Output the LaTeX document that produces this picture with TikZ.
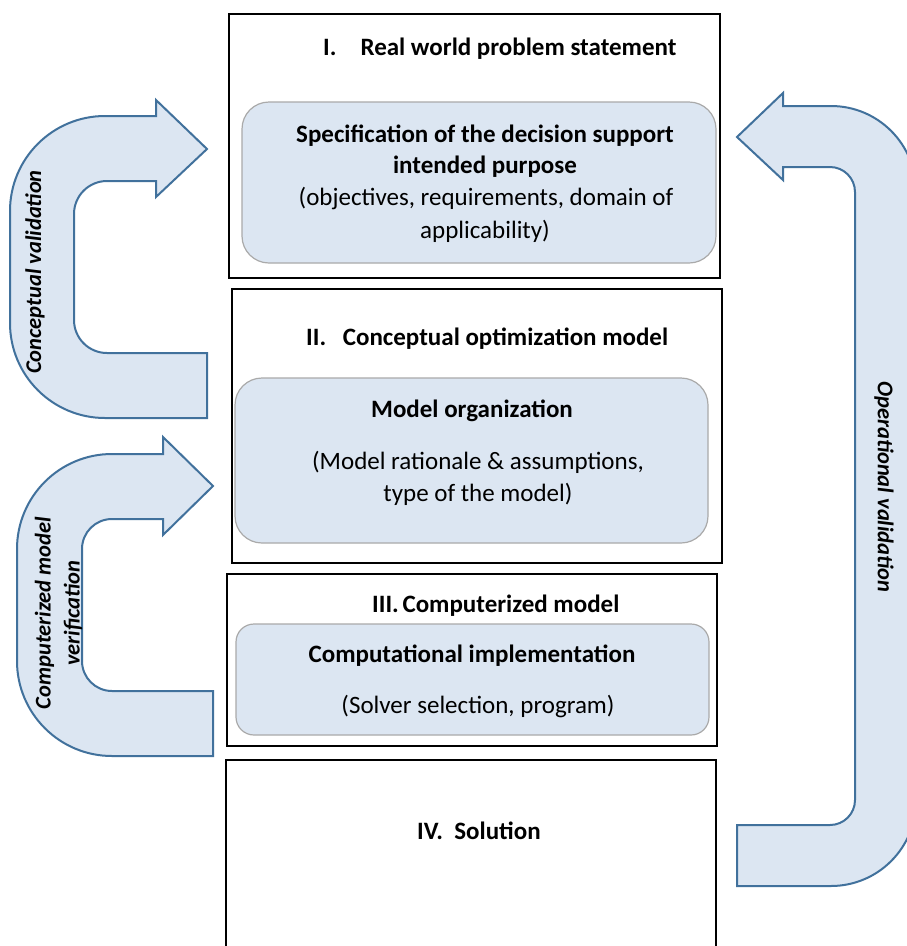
\documentclass[tikz,border=0pt]{standalone}
\usepackage{fontspec}
\setmainfont{Carlito}
\definecolor{loopfill}{RGB}{220,230,242}
\definecolor{loopline}{RGB}{65,113,156}
\definecolor{panelfill}{RGB}{220,230,242}
\definecolor{panelline}{RGB}{170,170,170}
\begin{document}
\begin{tikzpicture}[x=1pt,y=-1pt,
  stage/.style={draw=black, line width=2pt, inner sep=0pt},
  panel/.style={draw=panelline, line width=1.2pt, fill=panelfill, inner sep=0pt},
  loop/.style={draw=loopline, line width=2pt, fill=loopfill, line join=miter},
  title/.style={font=\fontsize{25}{29}\selectfont\bfseries, inner sep=0pt, anchor=base},
  num/.style={title, anchor=base west},
  body/.style={font=\fontsize{25}{29}\selectfont, inner sep=0pt, anchor=base},
  bodyb/.style={font=\fontsize{25}{29}\selectfont\bfseries, inner sep=0pt, anchor=base},
  side/.style={font=\fontsize{22.5}{29}\selectfont\bfseries\itshape, inner sep=0pt, align=center}]
\useasboundingbox (0,0) rectangle (907,946);
\fill[white] (0,0) rectangle (907,946);
\begin{scope}
\clip (0,0) rectangle (907,946);

% stage boxes
\node[stage, minimum width=491pt, minimum height=264pt] (b1) at (474.5,146) {};
\node[stage, minimum width=490pt, minimum height=274pt] (b2) at (477,426) {};
\node[stage, minimum width=490pt, minimum height=172pt] (b3) at (472,660) {};
\node[stage, minimum width=490pt, minimum height=200pt] (b4) at (471,860) {};

% inner panels
\node[panel, rounded corners=27pt, minimum width=474pt, minimum height=161pt] (p1) at (479,182.5) {};
\node[panel, rounded corners=27pt, minimum width=473pt, minimum height=165pt] (p2) at (471.5,460.5) {};
\node[panel, rounded corners=18pt, minimum width=473pt, minimum height=111pt] (p3) at (472.5,679.5) {};

% titles
\node[num] (n1) at (323,55) {I.};
\node[title] (t1) at (518.5,55) {Real world problem statement};
\node[num] (n2) at (306,345) {II.};
\node[title] (t2) at (505.5,345) {Conceptual optimization model};
\node[num] (n3) at (372,612) {III.};
\node[title] (t3) at (511,612) {Computerized model};
\node[num] (n4) at (417,839) {IV.};
\node[title] (t4) at (497.5,839) {Solution};

% panel texts
\node[bodyb] (s1) at (485,142) {Specification of the decision support};
\node[bodyb] (s2) at (485,173) {intended purpose};
\node[body] (s3) at (486,205) {(objectives, requirements, domain of};
\node[body] (s4) at (485,238) {applicability)};
\node[bodyb] (m1) at (472,417) {Model organization};
\node[body] (m2) at (478,469) {(Model rationale \& assumptions,};
\node[body] (m3) at (478,501) {type of the model)};
\node[bodyb] (c1) at (472,662) {Computational implementation};
\node[body] (c2) at (478,713) {(Solver selection, program)};

% loop arrows
\draw[loop] (207,418) -- (105,418) arc[start angle=90, end angle=180, radius=95]
  -- (10,211) arc[start angle=180, end angle=270, radius=95]
  -- (156,116) -- (156,100) -- (207,149) -- (156,197) -- (156,181)
  -- (107,181) arc[start angle=270, end angle=180, radius=33]
  -- (74,320) arc[start angle=180, end angle=90, radius=33]
  -- (207,353) -- cycle;
\draw[loop] (213,756) -- (112,756) arc[start angle=90, end angle=180, radius=95]
  -- (17,549) arc[start angle=180, end angle=270, radius=95]
  -- (163,454) -- (163,437) -- (213,486) -- (163,535) -- (163,519)
  -- (112,519) arc[start angle=270, end angle=180, radius=30]
  -- (82,661) arc[start angle=180, end angle=90, radius=30]
  -- (213,691) -- cycle;
\draw[loop] (737,886) -- (831,886) arc[start angle=90, end angle=0, radius=85]
  -- (916,191) arc[start angle=0, end angle=-90, radius=85]
  -- (783,106) -- (783,93) -- (737,137) -- (783,180) -- (783,167)
  -- (830,167) arc[start angle=-90, end angle=0, radius=25]
  -- (855,800) arc[start angle=0, end angle=90, radius=25]
  -- (737,825) -- cycle;

% loop labels
\node[side, rotate=90] (l1) at (35,272) {Conceptual validation};
\node[side, rotate=90] (l2) at (58.5,613) {Computerized model\\verification};
\node[side, rotate=-90] (l3) at (884,487) {Operational validation};
\end{scope}
\end{tikzpicture}
\end{document}
